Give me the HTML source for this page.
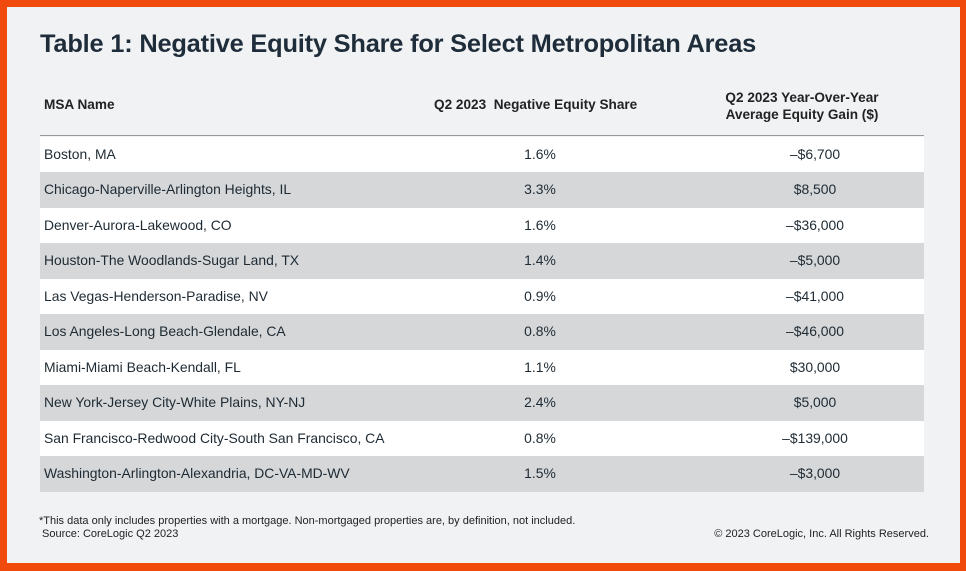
<!DOCTYPE html>
<html><head><style>
body{margin:0;width:966px;height:571px;background:#f04a0c;font-family:"Liberation Sans",sans-serif;color:#1e2a33;overflow:hidden}
.card{position:absolute;left:7px;top:7px;width:953px;height:556px;background:#f0f2f4}
.t{position:absolute;left:40px;top:30px;font-size:25.4px;font-weight:bold;color:#1f2d3a;letter-spacing:-0.2px}
.h{position:absolute;font-size:13.6px;font-weight:bold;color:#222}
.line{position:absolute;left:40px;width:884px;top:135px;height:1px;background:#999}
.row{position:absolute;left:40px;width:884px;height:35.5px;font-size:13.9px;line-height:35.5px}
.row span{position:absolute}
.a{left:4px}.b{left:450px;width:100px;text-align:center}.c{left:725px;width:100px;text-align:center}
.f{position:absolute;font-size:11px;color:#222}
</style></head><body>
<div class="card"></div>
<div class="t">Table 1: Negative Equity Share for Select Metropolitan Areas</div>
<div class="h" style="left:434px;top:97px">Q2 2023&nbsp; Negative Equity Share</div>
<div class="h" style="left:44px;top:97px">MSA Name</div>
<div class="h" style="left:700px;top:89px;width:204px;text-align:center;line-height:17px">Q2 2023 Year-Over-Year<br>Average Equity Gain ($)</div>
<div class="line"></div>
<div class="row" style="top:136.5px;background:#fff"><span class="a">Boston, MA</span><span class="b">1.6%</span><span class="c">–$6,700</span></div>
<div class="row" style="top:172px;background:#d5d7d9"><span class="a">Chicago-Naperville-Arlington Heights, IL</span><span class="b">3.3%</span><span class="c">$8,500</span></div>
<div class="row" style="top:207.5px;background:#fff"><span class="a">Denver-Aurora-Lakewood, CO</span><span class="b">1.6%</span><span class="c">–$36,000</span></div>
<div class="row" style="top:243px;background:#d5d7d9"><span class="a">Houston-The Woodlands-Sugar Land, TX</span><span class="b">1.4%</span><span class="c">–$5,000</span></div>
<div class="row" style="top:278.5px;background:#fff"><span class="a">Las Vegas-Henderson-Paradise, NV</span><span class="b">0.9%</span><span class="c">–$41,000</span></div>
<div class="row" style="top:314px;background:#d5d7d9"><span class="a">Los Angeles-Long Beach-Glendale, CA</span><span class="b">0.8%</span><span class="c">–$46,000</span></div>
<div class="row" style="top:349.5px;background:#fff"><span class="a">Miami-Miami Beach-Kendall, FL</span><span class="b">1.1%</span><span class="c">$30,000</span></div>
<div class="row" style="top:385px;background:#d5d7d9"><span class="a">New York-Jersey City-White Plains, NY-NJ</span><span class="b">2.4%</span><span class="c">$5,000</span></div>
<div class="row" style="top:420.5px;background:#fff"><span class="a">San Francisco-Redwood City-South San Francisco, CA</span><span class="b">0.8%</span><span class="c">–$139,000</span></div>
<div class="row" style="top:456px;background:#d5d7d9"><span class="a">Washington-Arlington-Alexandria, DC-VA-MD-WV</span><span class="b">1.5%</span><span class="c">–$3,000</span></div>
<div class="f" style="left:39px;top:515px">*This data only includes properties with a mortgage. Non-mortgaged properties are, by definition, not included.</div>
<div class="f" style="left:42px;top:528px">Source: CoreLogic Q2 2023</div>
<div class="f" style="right:37px;top:528px">© 2023 CoreLogic, Inc. All Rights Reserved.</div>
</body></html>
